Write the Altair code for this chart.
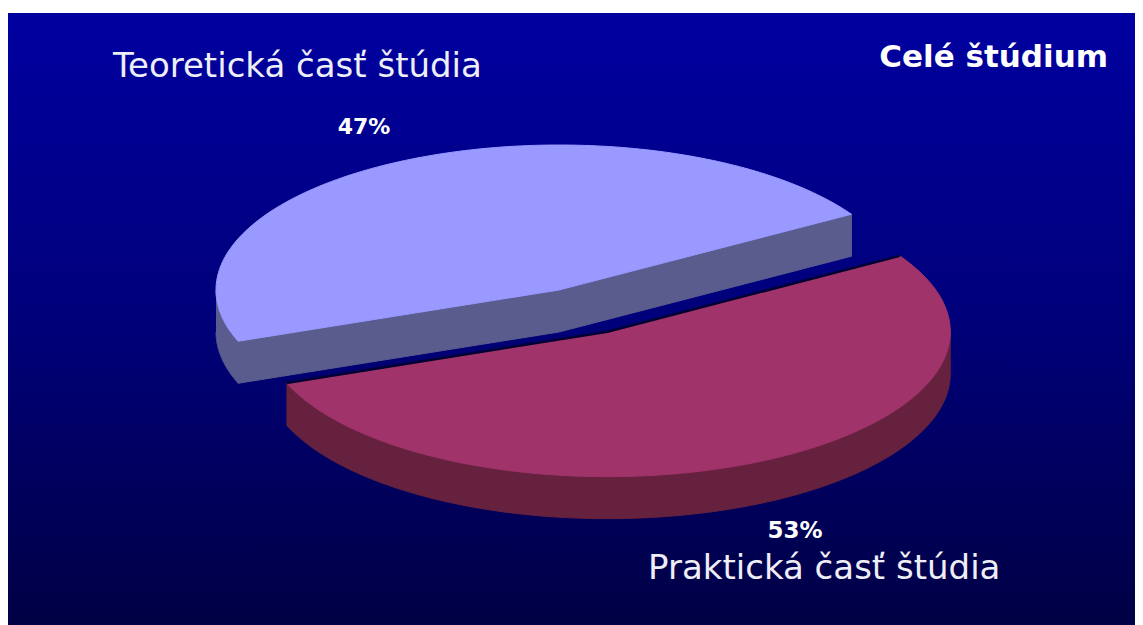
import altair as alt
import numpy as np
import pandas as pd

# ---------------- data ----------------
categories = ["Teoretická časť štúdia", "Praktická časť štúdia"]
shares = [47, 53]
chart_title = "Celé štúdium"
top_colors = ["#9999FF", "#A0336A"]
wall_colors = ["#5A5C8E", "#66213F"]
explode = [0.0, 0.32]

# ---------------- geometry / style ----------------
W, H = 1127, 617
CX, CY = 551, 282
RX, RY = 343, 145
DEPTH = 42
START = 31.5


def pts(t_deg, off, dz=0.0):
    t = np.radians(np.atleast_1d(t_deg))
    return (CX + off[0] + RX * np.cos(t), CY + off[1] - RY * np.sin(t) + dz)


def arc(t1, t2, off, dz=0.0, n=160):
    return pts(np.linspace(t1, t2, n), off, dz)


def poly_df(xs, ys):
    xs = np.concatenate([np.atleast_1d(a) for a in xs])
    ys = np.concatenate([np.atleast_1d(a) for a in ys])
    return pd.DataFrame({"x": xs, "y": ys, "i": np.arange(len(xs))})


xs_scale = alt.Scale(domain=[0, W], nice=False, zero=False)
ys_scale = alt.Scale(domain=[0, H], nice=False, zero=False, reverse=True)


def poly_layer(df, color, stroke=None, sw=1.0, filled=True):
    if filled:
        kw = dict(fill=color, stroke=color, strokeWidth=sw, interpolate="linear")
    else:
        kw = dict(stroke=stroke, strokeWidth=sw, interpolate="linear", strokeJoin="round")
    return alt.Chart(df).mark_line(**kw).encode(
        x=alt.X("x:Q", scale=xs_scale, axis=None),
        y=alt.Y("y:Q", scale=ys_scale, axis=None),
        order=alt.Order("i:Q"),
    )


total = float(sum(shares))
spans = [s / total * 360.0 for s in shares]
starts = [START + sum(spans[:k]) for k in range(len(spans))]

slices = []
for k in range(len(shares)):
    t1, t2 = starts[k], starts[k] + spans[k]
    b = np.radians((t1 + t2) / 2)
    off = (explode[k] * RX * np.cos(b), -explode[k] * RY * np.sin(b))
    slices.append((k, t1, t2, off, np.sin(b)))

# draw far slices first
slices.sort(key=lambda s: -s[4])

layers = []

# background frame with gradient
bg = alt.Chart(pd.DataFrame({"a": [0]})).mark_rect(
    fill=alt.Gradient(
        gradient="linear",
        stops=[
            alt.GradientStop(color="#0000A0", offset=0),
            alt.GradientStop(color="#00007A", offset=0.5),
            alt.GradientStop(color="#000044", offset=1),
        ],
        x1=0, x2=0, y1=0, y2=1,
    )
).encode(x=alt.value(0), x2=alt.value(W), y=alt.value(5), y2=alt.value(H))
layers.append(bg)

for k, t1, t2, off, _ in slices:
    c = (CX + off[0], CY + off[1])
    # radial faces
    if np.cos(np.radians(t1)) > 0:
        px, py = pts(t1, off)
        layers.append(poly_layer(poly_df(
            [c[0], px, px, c[0]], [c[1], py, py + DEPTH, c[1] + DEPTH]), wall_colors[k]))
    if np.cos(np.radians(t2)) < 0:
        px, py = pts(t2, off)
        layers.append(poly_layer(poly_df(
            [c[0], px, px, c[0]], [c[1], py, py + DEPTH, c[1] + DEPTH]), wall_colors[k]))
    # outer wall (front half only)
    for kk in (-1, 0, 1):
        a1 = max(t1, 180 + 360 * kk)
        a2 = min(t2, 360 + 360 * kk)
        if a2 > a1:
            tx, ty = arc(a1, a2, off)
            bx, by = arc(a2, a1, off, DEPTH)
            layers.append(poly_layer(poly_df([tx, bx], [ty, by]), wall_colors[k]))
    # top face
    ax, ay = arc(t1, t2, off)
    layers.append(poly_layer(poly_df([c[0], ax, c[0]], [c[1], ay, c[1]]), top_colors[k]))
    if explode[k] > 0:
        p1x, p1y = pts(t1, off)
        p2x, p2y = pts(t2, off)
        layers.append(poly_layer(poly_df([p1x, c[0], p2x], [p1y, c[1], p2y]),
                                 None, stroke="#000033", sw=2.5, filled=False))

FONT = "DejaVu Sans"


def text_layer(txt, x, y, size, weight="normal", align="left", color="white"):
    return alt.Chart(pd.DataFrame({"t": [txt]})).mark_text(
        font=FONT, fontSize=size, fontWeight=weight, align=align,
        baseline="alphabetic", color=color,
    ).encode(text="t:N", x=alt.value(x), y=alt.value(y))


layers.append(text_layer(categories[0], 105, 69, 34, color="#EEEEF6"))
layers.append(text_layer(f"{shares[0]}%", 356, 126, 22, weight="bold", align="center"))
layers.append(text_layer(chart_title, 1100, 59, 31, weight="bold", align="right"))
layers.append(text_layer(f"{shares[1]}%", 787, 530, 23, weight="bold", align="center"))
layers.append(text_layer(categories[1], 640, 571, 34, color="#EEEEF6"))

chart = alt.layer(*layers).properties(
    width=W, height=H,
    autosize=alt.AutoSizeParams(type="fit", contains="padding"),
    padding=0,
    background="white",
).configure_view(strokeWidth=0)

chart.save("out.html", embed_options={"renderer": "svg", "actions": False})
